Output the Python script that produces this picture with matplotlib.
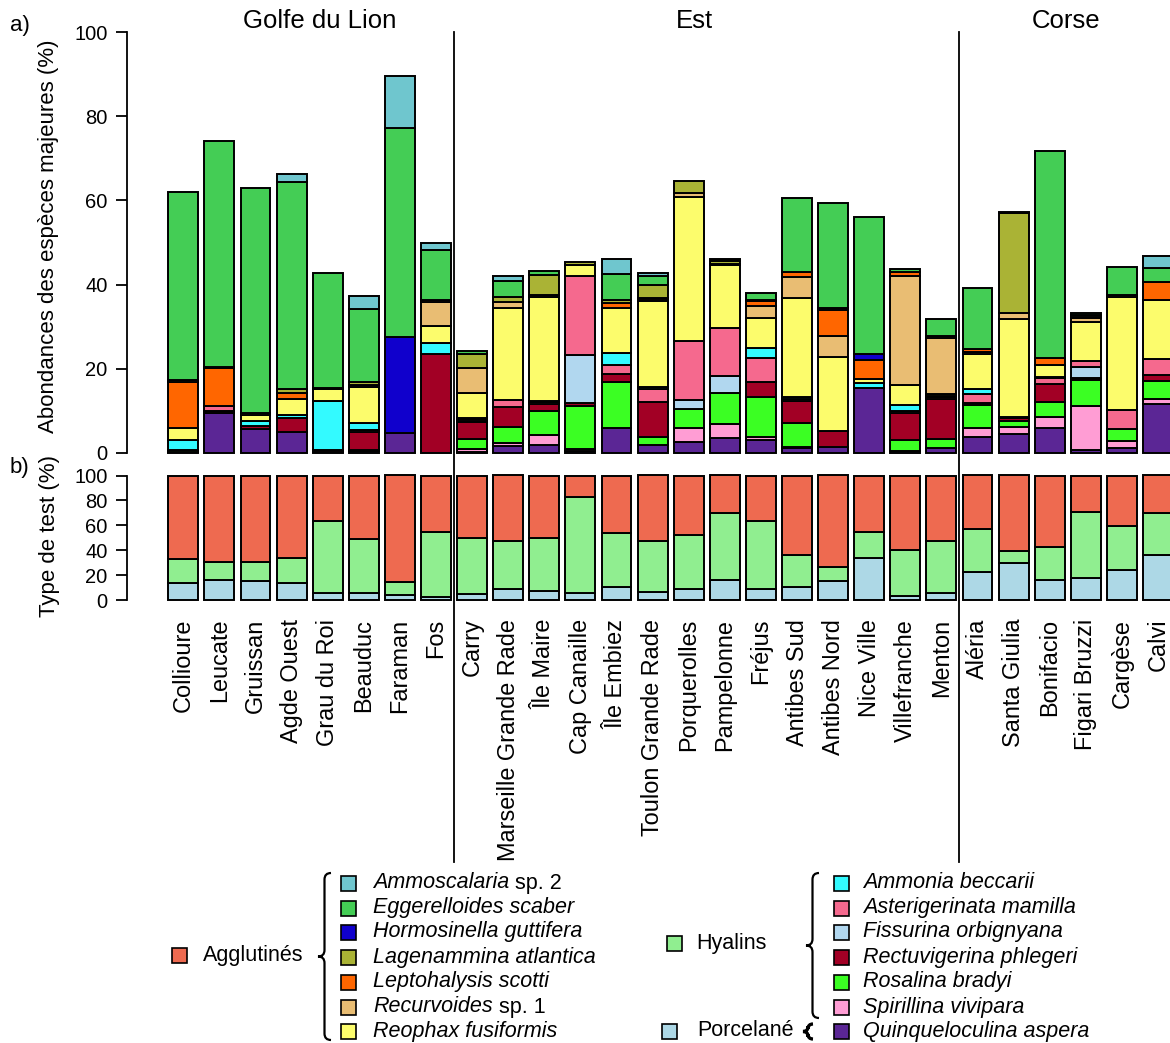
import numpy as np
import matplotlib
matplotlib.use('Agg')
import matplotlib.pyplot as plt
from matplotlib.path import Path
from matplotlib.patches import PathPatch, Rectangle
from matplotlib.lines import Line2D

plt.rcParams['font.family'] = ['Liberation Sans', 'DejaVu Sans']

W, H = 1170, 1043

sites = ['Collioure', 'Leucate', 'Gruissan', 'Agde Ouest', 'Grau du Roi', 'Beauduc', 'Faraman', 'Fos',
         'Carry', 'Marseille Grande Rade', 'Île Maire', 'Cap Canaille', 'Île Embiez', 'Toulon Grande Rade',
         'Porquerolles', 'Pampelonne', 'Fréjus', 'Antibes Sud', 'Antibes Nord', 'Nice Ville', 'Villefranche',
         'Menton', 'Aléria', 'Santa Giulia', 'Bonifacio', 'Figari Bruzzi', 'Cargèse', 'Calvi']
regions = ['Golfe du Lion', 'Est', 'Corse']

# abundances (%) per species, one value per site, stacked bottom to top
quinqueloculina = [0.3, 9.6, 5.8, 5.0, 0.3, 0.4, 4.8, 0, 0.3, 1.7, 1.8, 0.5, 5.9, 1.8,
                   2.7, 3.5, 3.1, 1.2, 1.5, 15.5, 0.4, 1.3, 3.9, 4.6, 6.0, 0.6, 1.3, 11.7]
spirillina = [0, 0, 0, 0, 0, 0, 0, 0, 0.6, 0.6, 2.5, 0.4, 0, 0,
              3.2, 3.4, 0.6, 0.2, 0, 0, 0, 0, 2.0, 1.5, 2.5, 10.5, 1.5, 1.1]
rosalina = [0.3, 0, 0, 0, 0, 0.3, 0, 0, 2.4, 3.8, 5.6, 10.3, 10.9, 2.0,
            4.6, 7.3, 9.7, 5.8, 0, 0, 2.6, 2.0, 5.4, 1.5, 3.6, 6.3, 2.9, 4.4]
rectuvigerina = [0.2, 0.3, 0.6, 3.4, 0.3, 4.2, 0, 23.5, 4.0, 4.8, 1.7, 0.6, 1.9, 8.3,
                 0, 0, 3.4, 5.2, 3.7, 0, 6.4, 9.6, 0.6, 0.7, 4.3, 0.4, 0, 1.4]
fissurina = [0, 0, 0, 0, 0, 0, 0, 0, 0.3, 0, 0, 11.4, 0, 0,
             2.0, 4.0, 0, 0, 0, 0, 0, 0, 0, 0.3, 0, 2.6, 0, 0]
asterigerinata = [0, 1.2, 0, 0, 0, 0.5, 0, 0, 0.4, 1.6, 0.4, 18.8, 2.2, 3.2,
                  14.2, 11.5, 5.7, 0.5, 0, 0, 0.5, 0.3, 2.2, 0, 1.4, 1.5, 4.5, 3.8]
ammonia = [2.2, 0, 1.3, 0.6, 11.8, 1.8, 0, 2.6, 0.4, 0, 0.4, 0, 2.9, 0.4,
           0, 0, 2.5, 0.5, 0, 1.1, 1.5, 0.3, 1.2, 0, 0.3, 0, 0, 0]
reophax = [3.0, 0, 1.4, 3.9, 2.8, 8.5, 0, 4.0, 5.8, 22.0, 24.6, 2.6, 10.6, 20.3,
           34.0, 14.9, 7.0, 23.3, 17.5, 1.0, 4.7, 0.4, 8.1, 23.3, 2.9, 9.3, 26.9, 13.9]
recurvoides = [0, 0, 0, 0, 0, 0, 0, 5.8, 5.9, 1.4, 0, 0, 0, 0.4,
               1.1, 0, 2.9, 5.1, 5.2, 0, 26.0, 13.4, 0.6, 1.4, 0, 0.8, 0, 0]
leptohalysis = [10.8, 9.0, 0, 1.3, 0, 0.5, 0, 0.4, 0, 0, 0.5, 0, 1.2, 0.5,
                0, 0.4, 1.2, 1.2, 6.0, 4.6, 0.8, 0.6, 0.6, 0, 1.6, 0.4, 0.5, 4.2]
lagenammina = [0.5, 0.3, 0.3, 0.9, 0.3, 0.7, 0, 0, 3.3, 1.1, 4.8, 0.8, 0.8, 3.0,
               2.8, 0.5, 0.2, 0, 0, 0, 0, 0, 0, 23.6, 0, 0.3, 0, 0]
hormosinella = [0, 0, 0, 0, 0, 0, 22.7, 0, 0, 0, 0, 0, 0, 0,
                0, 0.3, 0, 0, 0.5, 1.4, 0, 0, 0, 0, 0, 0, 0, 0]
eggerelloides = [44.6, 53.8, 53.5, 49.2, 27.2, 17.4, 49.6, 11.8, 0.8, 3.9, 1.0, 0, 6.0, 2.1,
                 0, 0.3, 1.7, 17.5, 24.9, 32.4, 0.8, 3.9, 14.6, 0.3, 49.2, 0.6, 6.5, 3.5]
ammoscalaria = [0, 0, 0, 1.9, 0, 2.9, 12.5, 1.9, 0, 1.2, 0, 0, 3.7, 0.7,
                0, 0, 0, 0, 0, 0, 0, 0, 0, 0, 0, 0, 0, 2.8]

# test type (%)
porcelane = [13.3, 16.0, 14.9, 13.3, 5.3, 5.3, 4.3, 2.1, 4.5, 9.1, 7.2, 5.3, 10.8, 6.7,
             8.9, 15.7, 8.6, 10.8, 15.3, 33.4, 3.2, 5.3, 22.2, 29.7, 16.2, 17.6, 23.8, 35.8]
hyalins = [19.5, 14.7, 15.8, 20.3, 58.2, 43.5, 10.4, 52.8, 45.4, 38.6, 42.7, 77.4, 43.3, 40.8,
           43.4, 54.1, 54.9, 25.5, 11.4, 21.3, 37.3, 41.9, 34.9, 9.5, 26.2, 52.8, 35.7, 33.8]
agglutines = [67.2, 69.3, 69.3, 66.4, 36.5, 51.2, 85.3, 45.1, 50.1, 52.3, 50.1, 17.3, 45.9, 52.5,
              47.7, 30.2, 36.5, 63.7, 73.3, 45.3, 59.5, 52.8, 42.9, 60.8, 57.6, 29.6, 40.5, 30.4]

species = ['Ammoscalaria', 'Eggerelloides scaber', 'Hormosinella guttifera', 'Lagenammina atlantica',
           'Leptohalysis scotti', 'Recurvoides', 'Reophax fusiformis',
           'Ammonia beccarii', 'Asterigerinata mamilla', 'Fissurina orbignyana', 'Rectuvigerina phlegeri',
           'Rosalina bradyi', 'Spirillina vivipara', 'Quinqueloculina aspera']
suffix = {'Ammoscalaria': ' sp. 2', 'Recurvoides': ' sp. 1'}
colors = ['#6FC6CE', '#44CD55', '#1000CC', '#AAB335', '#FF6600', '#E9BD73', '#FCFC6C',
          '#33FAFF', '#F5698E', '#B1D7EF', '#A20025', '#3BFF23', '#FF9DD4', '#5B2695']
values = [ammoscalaria, eggerelloides, hormosinella, lagenammina, leptohalysis, recurvoides, reophax,
          ammonia, asterigerinata, fissurina, rectuvigerina, rosalina, spirillina, quinqueloculina]
type_colors = {'Agglutinés': '#EE6A50', 'Hyalins': '#90EE90', 'Porcelané': '#ADD8E6'}


def fx(x):
    return x / W


def fy(y):
    return 1 - y / H


fig = plt.figure(figsize=(W / 100, H / 100), dpi=100)
pos = np.arange(len(sites))
bw = 0.83
x0 = 183.3      # pixel centre of first bar
pitch = 36.1    # pixels between bar centres
xlim = ((127 - x0) / pitch, (W - x0) / pitch)


def style_axis(ax):
    for s in ['top', 'right', 'bottom']:
        ax.spines[s].set_visible(False)
    ax.spines['left'].set_bounds(0, 100)
    ax.spines['left'].set_linewidth(1.3)
    ax.set_ylim(0, 100)
    ax.set_xlim(*xlim)
    ax.set_yticks([0, 20, 40, 60, 80, 100])
    ax.tick_params(axis='y', length=8, width=1.3, pad=6, labelsize=14.5)


# a) species abundances
ax1 = fig.add_axes([fx(127), fy(453), (W - 127) / W, (453 - 32) / H])
style_axis(ax1)
ax1.set_xticks([])
bottom = np.zeros(len(sites))
for vals, col in zip(values[::-1], colors[::-1]):
    v = np.array(vals, dtype=float)
    m = v > 0
    ax1.bar(pos[m], v[m], bw, bottom=bottom[m], color=col, edgecolor='black', linewidth=1.4, clip_on=False)
    bottom += v

# b) test type
ax2 = fig.add_axes([fx(127), fy(600), (W - 127) / W, (600 - 475.5) / H])
style_axis(ax2)
bottom = np.zeros(len(sites))
for vals, name in [(porcelane, 'Porcelané'), (hyalins, 'Hyalins'), (agglutines, 'Agglutinés')]:
    v = np.array(vals, dtype=float)
    ax2.bar(pos, v, bw, bottom=bottom, color=type_colors[name], edgecolor='black', linewidth=1.4,
            clip_on=False)
    bottom += v
ax2.set_xticks(pos)
ax2.set_xticklabels(sites, rotation=90, fontsize=16.9)
ax2.tick_params(axis='x', length=0, pad=13.5)

# region separators and headers
for xs in [7.5, 21.5]:
    xp = x0 + pitch * xs
    fig.add_artist(Line2D([fx(xp), fx(xp)], [fy(32), fy(862)], color='black', lw=1.3))
for name, xp in zip(regions, [320, 694, 1066]):
    fig.text(fx(xp), fy(21), name, ha='center', va='center', fontsize=18.5)

fig.text(fx(10), fy(25), 'a)', ha='left', va='center', fontsize=16)
fig.text(fx(10), fy(467), 'b)', ha='left', va='center', fontsize=16)
fig.text(fx(49), fy(236), 'Abondances des espèces majeures (%)', rotation=90,
         ha='center', va='center', fontsize=16)
fig.text(fx(50), fy(536), 'Type de test (%)', rotation=90, ha='center', va='center', fontsize=16)


# legend
def square(xp, yc, col, size=15):
    fig.add_artist(Rectangle((fx(xp), fy(yc + size / 2)), size / W, size / H,
                             facecolor=col, edgecolor='black', lw=1.2, transform=fig.transFigure))


def brace(xr, y0, y1, w, lw=1.6):
    ym = (y0 + y1) / 2
    xm = xr - w / 2
    r = w / 2
    pts = [(xr, y0), (xm, y0), (xm, y0 + r), (xm, ym - r), (xm, ym), (xr - w, ym),
           (xm, ym), (xm, ym + r), (xm, y1 - r), (xm, y1), (xr, y1)]
    codes = [Path.MOVETO, Path.CURVE3, Path.CURVE3, Path.LINETO, Path.CURVE3, Path.CURVE3,
             Path.CURVE3, Path.CURVE3, Path.LINETO, Path.CURVE3, Path.CURVE3]
    path = Path([(fx(a), fy(b)) for a, b in pts], codes)
    fig.add_artist(PathPatch(path, facecolor='none', edgecolor='black', lw=lw,
                             transform=fig.transFigure))


renderer = fig.canvas.get_renderer()


def species_label(xp, yc, name):
    t = fig.text(fx(xp), fy(yc), name, ha='left', va='center', fontsize=15.5, style='italic')
    if name in suffix:
        bb = t.get_window_extent(renderer=renderer)
        fig.text(bb.x1 / W, fy(yc), suffix[name], ha='left', va='center', fontsize=15.5)


rows = [883, 908, 932, 957, 982, 1007, 1031]
for i in range(7):
    square(341, rows[i], colors[i])
    species_label(373, rows[i], species[i])
for i in range(7):
    square(834, rows[i], colors[7 + i])
    species_label(863, rows[i], species[7 + i])

square(172, 955, type_colors['Agglutinés'])
fig.text(fx(203), fy(955), 'Agglutinés', ha='left', va='center', fontsize=15.5)
brace(331, 873, 1040, 13)

square(667, 943, type_colors['Hyalins'])
fig.text(fx(696), fy(943), 'Hyalins', ha='left', va='center', fontsize=15.5)
brace(819, 873, 1018, 13)

square(662, 1031, type_colors['Porcelané'])
fig.text(fx(697), fy(1031), 'Porcelané', ha='left', va='center', fontsize=15.5)
brace(813, 1024, 1039, 10, lw=2.4)

fig.savefig('out.png', dpi=100)
